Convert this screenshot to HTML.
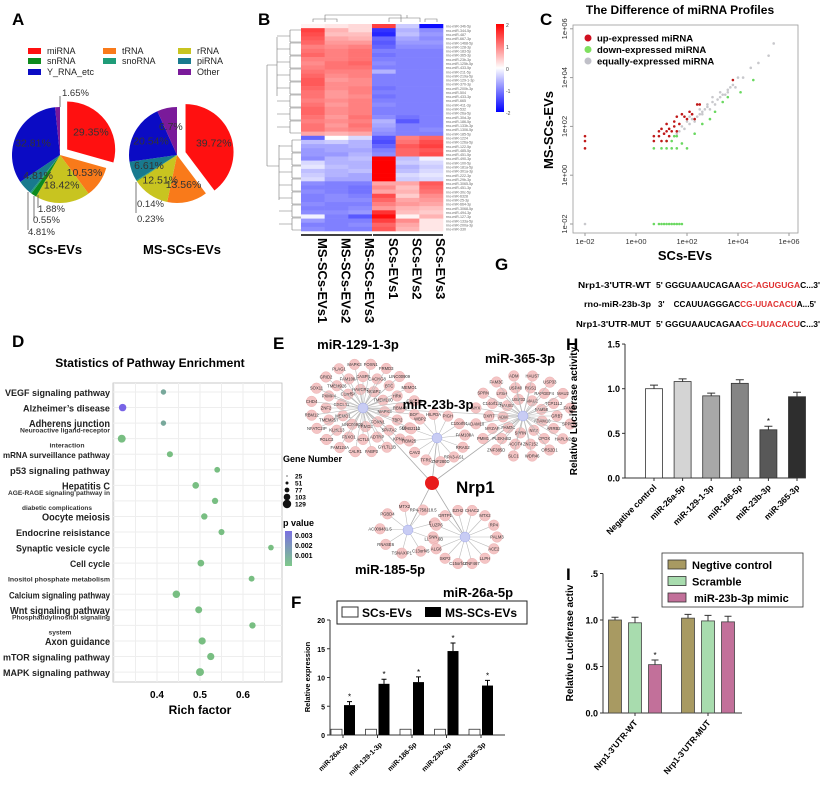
<!DOCTYPE html>
<html><head><meta charset="utf-8">
<style>
html,body{margin:0;padding:0;background:#fff;}
svg{display:block;font-family:"Liberation Sans",sans-serif;}
.pl{font-size:17px;font-weight:bold;}
.b{font-weight:bold;}
</style></head>
<body>
<svg id="fig" width="825" height="793" viewBox="0 0 825 793" xmlns="http://www.w3.org/2000/svg">
<rect width="825" height="793" fill="#fff"/>
<text class="pl" x="12" y="25">A</text>
<text class="pl" x="258" y="25">B</text>
<text class="pl" x="540" y="25">C</text>
<text class="pl" x="12" y="347">D</text>
<text class="pl" x="273" y="349">E</text>
<text class="pl" x="291" y="608">F</text>
<text class="pl" x="495" y="270">G</text>
<text class="pl" x="566" y="350">H</text>
<text class="pl" x="566" y="580">I</text>

<g id="pieLegend" font-size="8"></g>
<g id="pies"></g>
<text x="55" y="254" text-anchor="middle" font-size="13" class="b">SCs-EVs</text>
<text x="182" y="254" text-anchor="middle" font-size="13" class="b">MS-SCs-EVs</text>

<g id="heat"></g>

<text x="680" y="14" text-anchor="middle" font-size="12" class="b">The Difference of miRNA Profiles</text>
<g id="scatter"></g>

<g font-size="8.5" class="b">
<text x="578" y="288" textLength="73" lengthAdjust="spacingAndGlyphs">Nrp1-3'UTR-WT</text>
<text x="656" y="288" textLength="164" lengthAdjust="spacingAndGlyphs">5' GGGUAAUCAGAA<tspan fill="#e03030">GC-AGUGUGA</tspan>C...3'</text>
<text x="584" y="307" textLength="67" lengthAdjust="spacingAndGlyphs">rno-miR-23b-3p</text>
<text x="658" y="307" textLength="158" lengthAdjust="spacingAndGlyphs">3'&#160;&#160;&#160;&#160;CCAUUAGGGAC<tspan fill="#e03030">CG-UUACACU</tspan>A...5'</text>
<text x="576" y="327" textLength="75" lengthAdjust="spacingAndGlyphs">Nrp1-3'UTR-MUT</text>
<text x="656" y="327" textLength="164" lengthAdjust="spacingAndGlyphs">5' GGGUAAUCAGAA<tspan fill="#e03030">CG-UUACACU</tspan>C...3'</text>
</g>

<text x="150" y="367" text-anchor="middle" font-size="12" class="b">Statistics of Pathway Enrichment</text>
<g id="enrich"></g>
<text x="200" y="714" text-anchor="middle" font-size="12" class="b">Rich factor</text>

<g id="net"></g>
<g id="barF"></g>
<g id="barH"></g>
<g id="barI"></g>
</svg>
<script>
const NS='http://www.w3.org/2000/svg';
function mk(parent,tag,attrs,txt){const e=document.createElementNS(NS,tag);for(const k in attrs)e.setAttribute(k,attrs[k]);if(txt!==undefined)e.textContent=txt;parent.appendChild(e);return e;}
function nm(e,n){


return e;}
const $=id=>document.getElementById(id);

/* ===== A pies ===== */
const rnaTypes=['miRNA','tRNA','rRNA','snRNA','snoRNA','piRNA','Y_RNA_etc','Other'];
const rnaColors=['#ff1010','#f97a1a','#c8c420','#0d8a1e','#1f9c78','#187a8e','#0b0bc4','#7a1a9a'];
const scsPct=[29.35,10.53,18.42,1.88,0.55,4.81,32.81,1.65];
const msPct=[39.72,13.56,12.51,0.14,0.23,6.61,20.54,6.7];
const scsLbl=['29.35%','10.53%','18.42%','1.88%','0.55%','4.81%','32.81%','1.65%'];
const msLbl=['39.72%','13.56%','12.51%','0.14%','0.23%','6.61%','20.54%','6.7%'];
(function(){
 const L=$('pieLegend');
 const pos=[[28,53],[103,53],[178,53],[28,63],[103,63],[178,63],[28,74],[178,74]];
 const legNames=['miRNA','tRNA','rRNA','snRNA','snoRNA','piRNA','Y_RNA_etc','Other'];
 legNames.forEach((n,i)=>{const p=pos[i];
  const r=mk(L,'rect',{x:p[0],y:p[1]-5,width:13,height:6,fill:rnaColors[i]});
  nm(r,'legend-swatch-'+n.toLowerCase());
  const t=mk(L,'text',{x:p[0]+19,y:p[1]+1,'font-size':9,fill:'#222'},n);
  nm(t,'legend-entry-'+n.toLowerCase());});
 function pie(cx,cy,r,vals,lbls,explode,tag){
  const G=$('pies');let a=-Math.PI/2;const tot=vals.reduce((s,v)=>s+v,0);
  const labels=[];
  vals.forEach((v,i)=>{const da=v/tot*2*Math.PI;const mid=a+da/2;
   let ox=0,oy=0;if(i===0){ox=Math.cos(mid)*explode;oy=Math.sin(mid)*explode;}
   const x1=cx+ox+r*Math.cos(a),y1=cy+oy+r*Math.sin(a),x2=cx+ox+r*Math.cos(a+da),y2=cy+oy+r*Math.sin(a+da);
   const p=mk(G,'path',{d:`M${cx+ox},${cy+oy}L${x1},${y1}A${r},${r} 0 ${da>Math.PI?1:0} 1 ${x2},${y2}Z`,fill:rnaColors[i]});
   nm(p,tag+'-slice-'+rnaTypes[i].toLowerCase());
   if(v>3){const lr=r*0.62;labels.push([cx+ox+lr*Math.cos(mid),cy+oy+lr*Math.sin(mid)+4,lbls[i],i]);}
   a+=da;});
  labels.forEach(l=>{const t=mk(G,'text',{x:l[0],y:l[1],'text-anchor':'middle','font-size':10.5,fill:'#333'},l[2]);nm(t,tag+'-label-'+rnaTypes[l[3]].toLowerCase());});
 }
 pie(60,155,48,scsPct,scsLbl,9,'scs-pie');
 pie(177,155,48,msPct,msLbl,9,'ms-pie');
 const G=$('pies');
 mk(G,'path',{d:'M60,107 L60,96',stroke:'#555',fill:'none','stroke-width':0.8});
 mk(G,'path',{d:'M38,195 L38,208 M34,196 L34,219 M28,192 L28,230',stroke:'#555',fill:'none','stroke-width':0.8});
 mk(G,'path',{d:'M136,182 L136,213',stroke:'#555',fill:'none','stroke-width':0.8});
 [['1.65%',62,96],['1.88%',38,212],['0.55%',33,223],['4.81%',28,235],['0.14%',137,207],['0.23%',137,222]].forEach(s=>{const t=mk(G,'text',{x:s[1],y:s[2],'font-size':9.5,fill:'#333'},s[0]);nm(t,'pie-small-label');});
})();

/* ===== B heatmap ===== */
const sampleNames=['MS-SCs-EVs1','MS-SCs-EVs2','MS-SCs-EVs3','SCs-EVs1','SCs-EVs2','SCs-EVs3'];
const heatMS1=[0.1,1.5,1.4,1.3,1.2,1.0,1.1,1.2,1.0,0.9,1.0,1.1,1.2,1.3,1.3,1.2,1.1,1.1,1.0,1.1,1.2,1.2,1.1,1.0,1.1,1.1,0.7,-1.2,-0.5,-0.7,-0.8,-0.8,-0.9,-0.3,-0.2,-0.5,-0.4,-0.3,-0.9,-1.0,-0.9,-1.0,-1.0,-0.9,-1.0,-0.9,-0.1,-0.8,-1.0,-0.9];
const heatMS2=[0.2,0.6,0.5,0.7,0.8,0.9,1.0,1.0,1.0,1.1,1.1,1.0,0.9,0.8,0.9,0.9,0.8,0.8,0.9,0.8,0.9,0.9,0.8,0.9,0.8,0.9,0.6,0.0,-0.4,-0.7,-0.7,-0.8,-0.6,-0.6,-0.5,-0.6,-0.6,-0.7,-1.0,-1.0,-1.0,-0.9,-0.9,-1.0,-1.0,-0.9,-1.0,-1.0,-1.0,-1.0];
const heatMS3=[0.3,0.3,0.5,0.6,0.8,1.0,1.1,1.1,1.1,1.2,1.1,1.0,1.0,0.9,0.9,1.0,1.0,0.9,1.0,1.0,1.0,1.0,1.1,1.0,1.1,1.0,0.7,-0.3,-0.6,-0.6,-0.7,-0.6,-0.5,-0.6,-0.6,-0.5,-0.7,-0.7,-1.0,-1.1,-1.1,-1.0,-0.9,-1.0,-0.9,-0.8,-1.3,-1.0,-0.9,-1.0];
const heatSC1=[1.5,-1.6,-1.7,-1.2,-1.3,-1.2,-1.0,-1.1,-1.0,-0.9,-1.0,-0.6,-1.0,-1.0,-1.0,-1.1,-1.0,-1.1,-1.0,-0.9,-1.0,-1.0,-0.9,-0.6,-0.7,-0.8,-0.9,-1.3,-1.4,-1.2,-1.0,-0.9,2.0,2.0,2.0,2.0,2.0,2.0,0.7,0.9,0.7,1.4,1.2,1.0,0.8,1.6,1.9,1.5,1.2,1.3];
const heatSC2=[-0.4,-0.6,-0.5,-0.7,-0.8,-0.9,-1.0,-1.0,-1.0,-1.0,-1.0,-1.0,-1.0,-1.0,-1.0,-1.0,-1.0,-1.0,-1.0,-1.0,-1.0,-1.0,-1.1,-1.3,-1.0,-1.0,-1.0,1.0,1.1,1.3,1.2,1.2,-0.5,-0.4,-0.6,-0.5,-0.3,-0.4,0.7,0.5,0.6,0.4,0.7,0.8,0.6,0.5,0.1,0.9,0.7,0.6];
const heatSC3=[-1.9,-0.9,-0.8,-0.9,-0.8,-0.9,-1.0,-1.0,-1.0,-1.0,-1.0,-1.0,-1.0,-1.0,-1.0,-1.0,-1.0,-1.0,-1.0,-1.0,-1.0,-1.0,-1.0,-1.0,-1.0,-0.9,-1.0,1.2,1.4,1.5,1.3,1.4,-0.1,-0.3,-0.4,-0.3,-0.2,-0.3,1.3,1.2,1.1,0.9,0.8,0.7,0.5,0.4,0.6,0.2,0.2,0.2];
const heatRows=['34b-5p','344-5p','487','667-3p','1468-5p','128-3p','183-5p','365-3p','23b-3p','125b-5p','433-5p','211-5p','219a-5p','129-1-3p','370-3p','200b-3p','504','433-3p','665','411-3p','532','26a-5p','30d-3p','186-5p','133b-3p','1306-5p','185-5p','1224','126a-5p','122-5p','485-5p','451-5p','490-3p','100-5p','181a-5p','301a-3p','222-3p','29b-3p','3065-5p','451-3p','30c-5p','6328','25-3p','664-3p','3068-5p','494-3p','127-3p','133a-5p','200a-3p','330'];
(function(){
 const H=$('heat');const x0=301,y0=24,cw=(443-301)/6,rh=(231-24)/heatRows.length;
 const cols=[heatMS1,heatMS2,heatMS3,heatSC1,heatSC2,heatSC3];
 function col(v){v=Math.max(-2,Math.min(2,v));const t=Math.abs(v)/2;const c=Math.round(255*(1-t));return v>=0?`rgb(255,${c},${c})`:`rgb(${c},${c},255)`;}
 cols.forEach((arr,j)=>arr.forEach((v,i)=>{const r=mk(H,'rect',{x:x0+j*cw,y:y0+i*rh,width:cw+0.3,height:rh+0.3,fill:col(v)});nm(r,'heat-cell');}));
 heatRows.forEach((n,i)=>{const t=mk(H,'text',{x:446,y:y0+i*rh+rh*0.9,'font-size':3.6,fill:'#666'},'rno-miR-'+n);nm(t,'heat-row-label');});
 let d='';
 d+='M267,65 L267,166 M267,65 L277,65 M267,166 L279,166 M277,37 L277,96 M279,145 L279,200 ';
 for(let i=0;i<8;i++){const y=30+i*13;d+=`M277,${y+6} L290,${y+6} M290,${y} L290,${y+12} M290,${y} L301,${y} M290,${y+12} L301,${y+12} `;}
 for(let i=0;i<7;i++){const y=140+i*13;d+=`M279,${y+6} L292,${y+6} M292,${y} L292,${y+12} M292,${y} L301,${y} M292,${y+12} L301,${y+12} `;}
 d+='M325,22 L325,15 L401,15 L401,22 M313,22 L313,19 L337,19 L337,22 M325,19 L325,22 M389,22 L389,18 L420,18 L420,22 M407,18 L407,15 M425,22 L425,19 L437,19 L437,22';
 const p=mk(H,'path',{d:d,stroke:'#777',fill:'none','stroke-width':0.6});nm(p,'dendrogram');
 const u=mk(H,'path',{d:'M301,235 L372,235 M373,235 L443,235',stroke:'#000','stroke-width':1.5});nm(u,'group-underline');
 sampleNames.forEach((s,j)=>{const x=x0+j*cw+cw/2+5;const t=mk(H,'text',{x:x,y:238,'font-size':13,'font-weight':'bold',transform:`rotate(90 ${x} 238)`},s);nm(t,'column-label-'+s.toLowerCase());});
 const defs=mk(H,'defs',{});const g=mk(defs,'linearGradient',{id:'hg',x1:0,y1:0,x2:0,y2:1});
 mk(g,'stop',{offset:'0','stop-color':'#ff0000'});mk(g,'stop',{offset:'0.5','stop-color':'#ffffff'});mk(g,'stop',{offset:'1','stop-color':'#0000ff'});
 const cb=mk(H,'rect',{x:496,y:24,width:8,height:88,fill:'url(#hg)'});nm(cb,'heatmap-colorbar');
 ['2','1','0','-1','-2'].forEach((l,i)=>{const t=mk(H,'text',{x:506,y:27+i*22,'font-size':5,fill:'#444'},l);nm(t,'colorbar-tick');});
})();

/* ===== C scatter (log10 values) ===== */
const upX=[-2,-2,-2,0.7,0.7,0.9,0.9,1.0,1.1,1.2,1.2,1.3,1.3,1.4,1.5,1.5,1.6,1.7,1.8,1.9,2.0,2.1,2.2,2.3,2.4,2.5,1.0,1.2,3.8,1.6];
const upY=[1.6,1.4,1.1,1.6,1.4,1.8,1.6,1.9,1.7,1.8,2.1,1.6,1.9,1.8,2.2,2.0,2.4,2.1,2.5,2.4,2.3,2.6,2.5,2.3,2.9,2.9,1.4,1.4,3.9,1.8];
const downX=[0.7,0.9,1.0,1.1,1.2,1.3,1.4,1.5,1.6,1.7,1.8,2.0,1.2,1.4,1.6,0.7,1.0,1.2,1.4,1.5,1.6,2.3,2.6,2.9,3.1,3.4,3.6,4.1,4.6,1.8];
const downY=[-2,-2,-2,-2,-2,-2,-2,-2,-2,-2,-2,1.1,1.1,1.1,1.1,1.1,1.1,1.4,1.4,1.6,1.6,1.7,2.1,2.3,2.6,3.0,3.2,3.4,3.9,1.3];
const eqX=[-2,1.6,1.8,1.9,2.0,2.1,2.2,2.3,2.4,2.5,2.6,2.7,2.8,2.9,3.0,3.1,3.2,3.3,3.4,3.5,3.6,3.7,3.8,3.9,4.0,4.2,4.5,4.8,5.2,5.4,1.7,2.1,2.5,2.8,3.0,3.3,3.6,1.5,2.2,2.6];
const eqY=[-2,1.7,2.0,1.9,2.2,2.1,2.3,2.2,2.4,2.5,2.5,2.7,2.8,2.7,3.0,2.9,3.1,3.2,3.3,3.3,3.5,3.6,3.7,3.6,4.0,4.0,4.4,4.6,4.9,5.4,1.8,2.4,2.7,2.9,3.2,3.4,3.4,1.6,2.5,2.6];
const cTicks=[-2,0,2,4,6];
const cTickLbl=['1e-02','1e+00','1e+02','1e+04','1e+06'];
(function(){
 const S=$('scatter');const L=573,R=798,T=25,B=233;
 const xs=v=>585+(v+2)*25.5, ys=v=>224-(v+2)*24.4;
 const box=mk(S,'rect',{x:L,y:T,width:R-L,height:B-T,fill:'none',stroke:'#999','stroke-width':0.8});nm(box,'scatter-plot-area');
 cTicks.forEach((v,i)=>{
  const t=mk(S,'text',{x:xs(v),y:B+11,'text-anchor':'middle','font-size':7.5,fill:'#333'},cTickLbl[i]);nm(t,'x-tick-label');
  mk(S,'line',{x1:xs(v),x2:xs(v),y1:B,y2:B+3,stroke:'#999'});
  const y=ys(v);const u=mk(S,'text',{x:567,y:y,'text-anchor':'middle','font-size':7.5,fill:'#333',transform:`rotate(-90 567 ${y})`},cTickLbl[i]);nm(u,'y-tick-label');
  mk(S,'line',{x1:L-3,x2:L,y1:y,y2:y,stroke:'#999'});});
 const sets=[[eqX,eqY,'#c8c8cc','equal-point'],[downX,downY,'#6ad860','down-point'],[upX,upY,'#c01818','up-point']];
 sets.forEach(s=>s[0].forEach((x,i)=>{const c=mk(S,'circle',{cx:xs(x),cy:ys(s[1][i]),r:1.3,fill:s[2]});nm(c,s[3]);}));
 const lg=[['up-expressed miRNA','#d01020'],['down-expressed miRNA','#80e060'],['equally-expressed miRNA','#c0c0c8']];
 lg.forEach((l,i)=>{const c=mk(S,'circle',{cx:588,cy:38+i*11.5,r:3.5,fill:l[1]});nm(c,'legend-dot');const t=mk(S,'text',{x:597,y:41.5+i*11.5,'font-size':9.5,'font-weight':'bold'},l[0]);nm(t,'legend-entry');});
 const xl=mk(S,'text',{x:685,y:260,'text-anchor':'middle','font-size':13,'font-weight':'bold'},'SCs-EVs');nm(xl,'x-axis-title');
 const yl=mk(S,'text',{x:553,y:130,'text-anchor':'middle','font-size':13,'font-weight':'bold',transform:'rotate(-90 553 130)'},'MS-SCs-EVs');nm(yl,'y-axis-title');
})();

/* ===== D enrichment ===== */
const pathways=['VEGF signaling pathway','Alzheimer\u2019s disease','Adherens junction','Neuroactive ligand-receptor interaction','mRNA surveillance pathway','p53 signaling pathway','Hepatitis C','AGE-RAGE signaling pathway in diabetic complications','Oocyte meiosis','Endocrine reisistance','Synaptic vesicle cycle','Cell cycle','Inositol phosphate metabolism','Calcium signaling pathway','Wnt signaling pathway','Phosphatidylinositol signaling system','Axon guidance','mTOR signaling pathway','MAPK signaling pathway'];
const richFactor=[0.415,0.32,0.415,0.318,0.43,0.54,0.49,0.535,0.51,0.55,0.665,0.502,0.62,0.445,0.497,0.622,0.505,0.525,0.50];
const geneNum=[25,60,25,70,35,30,45,38,40,35,28,45,32,60,50,40,55,55,70];
const pValue=[0.0015,0.0035,0.0015,0.001,0.001,0.001,0.001,0.001,0.001,0.001,0.001,0.001,0.001,0.001,0.001,0.001,0.001,0.001,0.001];
const dTicks=[0.4,0.5,0.6];
(function(){
 const D=$('enrich');const L=113,R=282,T=383,B=682;
 const xs=v=>157+(v-0.4)*430, ys=i=>392+i*15.56;
 const box=mk(D,'rect',{x:L,y:T,width:R-L,height:B-T,fill:'#fff',stroke:'#bbb','stroke-width':0.8});nm(box,'enrichment-plot-area');
 for(let v=0.3;v<=0.7;v+=0.05){const x=xs(v);if(x>L&&x<R)mk(D,'line',{x1:x,x2:x,y1:T,y2:B,stroke:'#eee'});}
 pathways.forEach((p,i)=>mk(D,'line',{x1:L,x2:R,y1:ys(i),y2:ys(i),stroke:'#eee'}));
 dTicks.forEach(v=>{const t=mk(D,'text',{x:xs(v),y:698,'text-anchor':'middle','font-size':10,'font-weight':'bold'},String(v));nm(t,'x-tick-label');});
 const widths={0:[105,9.5],1:[87,9.5],2:[81,10.5],4:[107,8.5],5:[100,9.5],6:[48,10.5],8:[68,10.5],9:[94,9.5],10:[94,9.5],11:[40,9.5],13:[101,9],14:[100,10.5],16:[65,10],17:[107,9.5],18:[107,9.5]};
 const two={3:['Neuroactive ligand-receptor',90,'interaction',67,35],7:['AGE-RAGE signaling pathway in',102,'diabetic complications',57,70],12:['Inositol phosphate metabolism',102,null],15:['Phosphatidylinositol signaling',98,'system',60,23]};
 pathways.forEach((p,i)=>{
  const y=ys(i);
  if(two[i]){const s=two[i];
   if(s[2]){const a=mk(D,'text',{x:110-s[1],y:y-6,'font-size':6.8,'font-weight':'bold',fill:'#333',textLength:s[1],lengthAdjust:'spacingAndGlyphs'},s[0]);nm(a,'pathway-label');
    const b=mk(D,'text',{x:s[3]-s[4]/2,y:y+9,'font-size':6.8,'font-weight':'bold',fill:'#333',textLength:s[4],lengthAdjust:'spacingAndGlyphs'},s[2]);nm(b,'pathway-label');}
   else{const a=mk(D,'text',{x:110-s[1],y:y+3,'font-size':6.8,'font-weight':'bold',fill:'#333',textLength:s[1],lengthAdjust:'spacingAndGlyphs'},s[0]);nm(a,'pathway-label');}
  } else {
   const w=widths[i];
   const t=mk(D,'text',{x:110-w[0],y:y+4,'font-size':w[1],'font-weight':'bold',fill:'#222',textLength:w[0],lengthAdjust:'spacingAndGlyphs'},p);nm(t,'pathway-label');}
  const pv=Math.min(1,(pValue[i]-0.001)/0.002);
  const col=`rgb(120,${Math.round(190-pv*90)},${Math.round(130+pv*100)})`;
  const c=mk(D,'circle',{cx:xs(richFactor[i]),cy:y,r:0.8+Math.sqrt(geneNum[i])*0.38,fill:col});nm(c,'enrichment-dot');});
 const g=mk(D,'text',{x:283,y:462,'font-size':9,'font-weight':'bold'},'Gene Number');nm(g,'gene-number-legend-title');
 [25,51,77,103,129].forEach((n,i)=>{const y=476+i*7;const c=mk(D,'circle',{cx:287,cy:y,r:0.6+i*0.9,fill:'#111'});nm(c,'size-legend-dot');const t=mk(D,'text',{x:295,y:y+2.5,'font-size':6.5,'font-weight':'bold'},String(n));nm(t,'size-legend-label');});
 const pv=mk(D,'text',{x:283,y:526,'font-size':9,'font-weight':'bold'},'p value');nm(pv,'p-value-legend-title');
 const defs=mk(D,'defs',{});const lg=mk(defs,'linearGradient',{id:'pg',x1:0,y1:0,x2:0,y2:1});
 mk(lg,'stop',{offset:'0','stop-color':'#7a70e0'});mk(lg,'stop',{offset:'1','stop-color':'#7ec98a'});
 const cb=mk(D,'rect',{x:285,y:531,width:7,height:35,fill:'url(#pg)'});nm(cb,'p-value-colorbar');
 ['0.003','0.002','0.001'].forEach((l,i)=>{const t=mk(D,'text',{x:295,y:538+i*10,'font-size':7,'font-weight':'bold'},l);nm(t,'p-value-label');});
})();

/* ===== E network ===== */
(function(){
 const N=$('net');
 const hubs={h129:[363,408],h23:[437,438],h365:[523,416],h185:[408,530],h26:[465,537]};
 const nrp=[432,483];
 const genes='MAPK3 FOXN1 FRMD3 LINC00909 MEMO1 CXCL11 C1orf54 HAVCR2 NCBP2 TMEM100 RBM48 TBP2 SPATA2 ADTRP ACTL9 FBXO1 KLHL13 TMEM257 ZNF2 PXMP4 TMEM926 FAM108A CASP8 CACNG8 BTC HRK BOC SERPINB1 KPNA4 GYLTL1B FABP3 CALR1 FAM124A PGLC3 NFATC2IP RBM12 CHD4 SOX11 GRID2 PLAG1'.split(' ');
 const genes2='ADAM10 NYX SPRN FAM3C ADM HAUS7 USP33 MAU2 FAM58 GRB7 ARRB2 CPOX ZNF152 ACOT4 PLEKHB2 MYZAP DXR7 C14orf132 LYSH USP40 RGS1 RAPGEF4 TCP11L2 SPPL2C HAPLN2 OR52D1 WDR46 SLC1 ZNF385D PMM1'.split(' ');
 function cluster(h,rings,names,tag){let k=0;const [cx,cy]=h;
  rings.forEach(([r,n,off])=>{for(let i=0;i<n;i++){const a=off+i*2*Math.PI/n;const x=cx+r*Math.cos(a),y=cy+r*0.85*Math.sin(a);
   mk(N,'line',{x1:cx,y1:cy,x2:x,y2:y,stroke:'#bbb','stroke-width':0.6});
   const c=mk(N,'circle',{cx:x,cy:y,r:5.3,fill:'#f4c4c4',stroke:'#e8a8a8','stroke-width':0.4});nm(c,tag+'-gene-node');
   const t=mk(N,'text',{x:x,y:y+1.5,'text-anchor':'middle','font-size':4.2,fill:'#333'},names[k%names.length]);nm(t,'gene-label');k++;}});}
 Object.keys(hubs).forEach(k=>{const h=hubs[k];const l=mk(N,'line',{x1:nrp[0],y1:nrp[1],x2:h[0],y2:h[1],stroke:'#aaa','stroke-width':0.8});nm(l,'edge-nrp1-'+k);});
 mk(N,'line',{x1:363,y1:408,x2:523,y2:416,stroke:'#bbb','stroke-width':0.6});
 cluster(hubs.h129,[[22,10,0.2],[37,16,0],[52,20,0.15]],genes,'mir129');
 cluster(hubs.h365,[[20,9,0.3],[34,14,0],[48,16,0.2]],genes2,'mir365');
 cluster(hubs.h23,[[28,12,0.4]],['RRAS2','RPA3-AS1','ZNF280D','TFRC','CAV2','RBM25','MAB21L2','WBP2','HILPDA','PIGH','C10orf91','FAM108A'],'mir23b');
 cluster(hubs.h185,[[28,9,-0.3]],['EIF2D','LDHAL6B','C13orf45','TSNAXIP1','RNASE6','AC009481.5','PGBD4','MTX2','RP4-758J18.5'],'mir185');
 cluster(hubs.h26,[[32,14,0]],['PALM3','ACE2','LLPH','ZNF467','C15orf42','SKP2','ALG6','SNN','LUZP6','GRTP1','EZH2','CHAC2','MTX2','RP4'],'mir26a');
 Object.keys(hubs).forEach(k=>{const h=hubs[k];const c=mk(N,'circle',{cx:h[0],cy:h[1],r:5,fill:'#c8ccf4',stroke:'#a0a8e8','stroke-width':0.5});nm(c,'hub-'+k);});
 const nr=mk(N,'circle',{cx:nrp[0],cy:nrp[1],r:7,fill:'#e81c1c'});nm(nr,'nrp1-node');
 const tl=[['miR-129-1-3p',358,349,'middle'],['miR-365-3p',520,363,'middle'],['miR-23b-3p',438,409,'middle'],['Nrp1',456,493,'start'],['miR-185-5p',390,574,'middle'],['miR-26a-5p',478,597,'middle']];
 tl.forEach(l=>{const t=mk(N,'text',{x:l[1],y:l[2],'text-anchor':l[3],'font-size':l[0]==='Nrp1'?17:13,'font-weight':'bold'},l[0]);nm(t,'network-label-'+l[0].toLowerCase());});
})();

/* ===== F expression ===== */
const fMirs=['miR-26a-5p','miR-129-1-3p','miR-186-5p','miR-23b-3p','miR-365-3p'];
const fScs=[1,1,1,1,1];
const fMs=[5.2,8.9,9.2,14.6,8.6];
const fMsErr=[0.6,0.8,0.9,1.4,0.9];
const fTicks=[0,5,10,15,20];
(function(){
 const F=$('barF');const x0=330,y0=735,ys=v=>y0-v*5.75;
 const ax=mk(F,'path',{d:`M${x0},${ys(20)} L${x0},${y0} L505,${y0}`,stroke:'#333',fill:'none','stroke-width':1});nm(ax,'axes');
 fTicks.forEach(v=>{mk(F,'line',{x1:x0-3,x2:x0,y1:ys(v),y2:ys(v),stroke:'#333'});const t=mk(F,'text',{x:x0-5,y:ys(v)+3,'text-anchor':'end','font-size':7,'font-weight':'bold'},String(v));nm(t,'y-tick-label');});
 fMirs.forEach((m,i)=>{const cx=348+i*34.5;
  const w=mk(F,'rect',{x:cx-17,y:ys(fScs[i]),width:11,height:ys(0)-ys(fScs[i]),fill:'#fff',stroke:'#333','stroke-width':0.8});nm(w,'bar-scs-'+m);
  const b=mk(F,'rect',{x:cx-4,y:ys(fMs[i]),width:11,height:ys(0)-ys(fMs[i]),fill:'#000'});nm(b,'bar-ms-'+m);
  const e=mk(F,'path',{d:`M${cx+1.5},${ys(fMs[i])} L${cx+1.5},${ys(fMs[i]+fMsErr[i])} M${cx-1},${ys(fMs[i]+fMsErr[i])} L${cx+4},${ys(fMs[i]+fMsErr[i])}`,stroke:'#000','stroke-width':1});nm(e,'error-bar');
  const s=mk(F,'text',{x:cx+1.5,y:ys(fMs[i]+fMsErr[i])-2,'text-anchor':'middle','font-size':8},'*');nm(s,'significance-star');
  mk(F,'line',{x1:cx-5,x2:cx-5,y1:y0,y2:y0+3,stroke:'#333'});
  const t=mk(F,'text',{x:cx,y:y0+10,'text-anchor':'end','font-size':7,'font-weight':'bold',transform:`rotate(-45 ${cx} ${y0+10})`},m);nm(t,'x-tick-label');});
 const yl=mk(F,'text',{x:310,y:677,'text-anchor':'middle','font-size':7.5,'font-weight':'bold',transform:'rotate(-90 310 677)'},'Relative expression');nm(yl,'y-axis-title');
 const lb=mk(F,'rect',{x:337,y:601,width:190,height:23,fill:'#fff',stroke:'#222','stroke-width':1});nm(lb,'legend-box');
 const s1=mk(F,'rect',{x:342,y:607,width:16,height:10,fill:'#fff',stroke:'#333'});nm(s1,'legend-swatch-scs');
 const t1=mk(F,'text',{x:362,y:617,'font-size':12,'font-weight':'bold'},'SCs-EVs');nm(t1,'legend-entry-scs-evs');
 const s2=mk(F,'rect',{x:425,y:607,width:16,height:10,fill:'#000'});nm(s2,'legend-swatch-ms');
 const t2=mk(F,'text',{x:445,y:617,'font-size':12,'font-weight':'bold'},'MS-SCs-EVs');nm(t2,'legend-entry-ms-scs-evs');
})();

/* ===== H luciferase ===== */
const hCats=['Negative control','miR-26a-5p','miR-129-1-3p','miR-186-5p','miR-23b-3p','miR-365-3p'];
const hVals=[1.0,1.08,0.92,1.06,0.54,0.91];
const hErr=[0.04,0.03,0.03,0.04,0.04,0.05];
const hTicks=[0,0.5,1.0,1.5];
(function(){
 const H=$('barH');const x0=625,y0=478,ys=v=>y0-v*89.3;
 const cols=['#ffffff','#d4d4d4','#a8a8a8','#858585','#585858','#2e2e2e'];
 const ax=mk(H,'path',{d:`M${x0},${ys(1.5)} L${x0},${y0} L798,${y0}`,stroke:'#333',fill:'none','stroke-width':1});nm(ax,'axes');
 hTicks.forEach(v=>{mk(H,'line',{x1:x0-3,x2:x0,y1:ys(v),y2:ys(v),stroke:'#333'});const t=mk(H,'text',{x:x0-5,y:ys(v)+3.5,'text-anchor':'end','font-size':9,'font-weight':'bold'},v.toFixed(1));nm(t,'y-tick-label');});
 hCats.forEach((c,i)=>{const cx=654+i*28.6;
  const b=mk(H,'rect',{x:cx-8.5,y:ys(hVals[i]),width:17,height:ys(0)-ys(hVals[i]),fill:cols[i],stroke:'#333','stroke-width':0.8});nm(b,'bar-'+c.toLowerCase().replace(/ /g,'-'));
  const e=mk(H,'path',{d:`M${cx},${ys(hVals[i])} L${cx},${ys(hVals[i]+hErr[i])} M${cx-4},${ys(hVals[i]+hErr[i])} L${cx+4},${ys(hVals[i]+hErr[i])}`,stroke:'#333','stroke-width':1});nm(e,'error-bar');
  mk(H,'line',{x1:cx,x2:cx,y1:y0,y2:y0+3,stroke:'#333'});
  const t=mk(H,'text',{x:cx+3,y:y0+10,'text-anchor':'end','font-size':8.5,'font-weight':'bold',transform:`rotate(-45 ${cx+3} ${y0+10})`},c);nm(t,'x-tick-label');});
 const st=mk(H,'text',{x:654+4*28.6,y:ys(0.58)-2,'text-anchor':'middle','font-size':8},'*');nm(st,'significance-star');
 const yl=mk(H,'text',{x:577,y:411,'text-anchor':'middle','font-size':10,'font-weight':'bold',transform:'rotate(-90 577 411)'},'Relative Luciferase activity');nm(yl,'y-axis-title');
})();

/* ===== I grouped ===== */
const iGroups=['Nrp1-3\'UTR-WT','Nrp1-3\'UTR-MUT'];
const iSeries=['Negtive control','Scramble','miR-23b-3p mimic'];
const iNeg=[1.0,1.02];
const iScr=[0.97,0.99];
const iMimic=[0.52,0.98];
const iErr=[[0.03,0.06,0.05],[0.04,0.06,0.06]];
const iTicks=[0,0.5,1.0,1.5];
(function(){
 const I=$('barI');const x0=603,y0=713,ys=v=>y0-v*93;
 const cols=['#a89a62','#a8dcae','#c2709a'];
 const ax=mk(I,'path',{d:`M${x0},${ys(1.5)} L${x0},${y0} L742,${y0}`,stroke:'#333',fill:'none','stroke-width':1});nm(ax,'axes');
 iTicks.forEach(v=>{mk(I,'line',{x1:x0-3,x2:x0,y1:ys(v),y2:ys(v),stroke:'#333'});const lbl=v===1.5?'.5':v.toFixed(1);const t=mk(I,'text',{x:x0-5,y:ys(v)+3.5,'text-anchor':'end','font-size':9,'font-weight':'bold'},lbl);nm(t,'y-tick-label');});
 const vals=[iNeg,iScr,iMimic];
 iGroups.forEach((g,gi)=>{const base=615+gi*73;
  vals.forEach((arr,si)=>{const cx=base+si*20;const v=arr[gi];
   const b=mk(I,'rect',{x:cx-6.5,y:ys(v),width:13,height:ys(0)-ys(v),fill:cols[si],stroke:'#444','stroke-width':0.8});nm(b,'bar-'+gi+'-'+si);
   const e=mk(I,'path',{d:`M${cx},${ys(v)} L${cx},${ys(v+iErr[gi][si])} M${cx-3.5},${ys(v+iErr[gi][si])} L${cx+3.5},${ys(v+iErr[gi][si])}`,stroke:'#333','stroke-width':1});nm(e,'error-bar');});
  const cx=base+20;mk(I,'line',{x1:cx,x2:cx,y1:y0,y2:y0+3,stroke:'#333'});
  const t=mk(I,'text',{x:cx+3,y:y0+10,'text-anchor':'end','font-size':8.5,'font-weight':'bold',transform:`rotate(-50 ${cx+3} ${y0+10})`},g);nm(t,'x-tick-label');});
 const st=mk(I,'text',{x:655,y:ys(0.57)-2,'text-anchor':'middle','font-size':8},'*');nm(st,'significance-star');
 const yl=mk(I,'text',{x:573,y:643,'text-anchor':'middle','font-size':10,'font-weight':'bold',transform:'rotate(-90 573 643)'},'Relative Luciferase activ');nm(yl,'y-axis-title');
 const lb=mk(I,'rect',{x:662,y:553,width:141,height:54,fill:'#fff',stroke:'#333','stroke-width':0.8});nm(lb,'legend-box');
 iSeries.forEach((s,i)=>{const y=558+i*16.5;const r=mk(I,'rect',{x:668,y:y+2,width:18,height:9,fill:cols[i],stroke:'#333','stroke-width':0.8});nm(r,'legend-swatch');
  const t=mk(I,'text',{x:i===2?694:692,y:y+11,'font-size':11,'font-weight':'bold'},s);nm(t,'legend-entry-'+s.toLowerCase().replace(/ /g,'-'));});
})();
</script>
</body></html>
